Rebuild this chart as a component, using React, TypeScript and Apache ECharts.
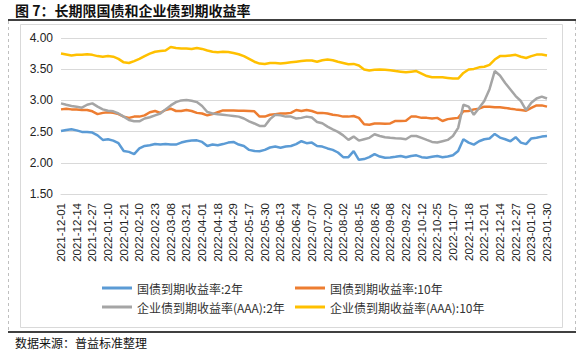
import React, { useEffect, useRef } from "react";
import * as echarts from "echarts";

const dates = [
  "2021-12-01","2021-12-06","2021-12-09","2021-12-14","2021-12-17","2021-12-22","2021-12-27","2021-12-30","2022-01-05","2022-01-10",
  "2022-01-13","2022-01-18","2022-01-21","2022-01-26","2022-02-07","2022-02-10","2022-02-15","2022-02-18","2022-02-23","2022-02-28",
  "2022-03-03","2022-03-08","2022-03-11","2022-03-16","2022-03-21","2022-03-24","2022-03-29","2022-04-01","2022-04-08","2022-04-13",
  "2022-04-18","2022-04-21","2022-04-26","2022-04-29","2022-05-09","2022-05-12","2022-05-17","2022-05-20","2022-05-25","2022-05-30",
  "2022-06-02","2022-06-08","2022-06-13","2022-06-16","2022-06-21","2022-06-24","2022-06-29","2022-07-04","2022-07-07","2022-07-12",
  "2022-07-15","2022-07-20","2022-07-25","2022-07-28","2022-08-02","2022-08-05","2022-08-10","2022-08-15","2022-08-18","2022-08-23",
  "2022-08-26","2022-08-31","2022-09-05","2022-09-08","2022-09-14","2022-09-19","2022-09-22","2022-09-27","2022-09-30","2022-10-12",
  "2022-10-17","2022-10-20","2022-10-25","2022-10-28","2022-11-02","2022-11-07","2022-11-10","2022-11-15","2022-11-18","2022-11-23",
  "2022-11-28","2022-12-01","2022-12-06","2022-12-09","2022-12-14","2022-12-19","2022-12-22","2022-12-27","2022-12-30","2023-01-05",
  "2023-01-10","2023-01-13","2023-01-18","2023-01-30",
];

const gov2y = [
  2.51, 2.527, 2.537, 2.52, 2.495, 2.495, 2.484, 2.44, 2.367, 2.378,
  2.356, 2.314, 2.19, 2.175, 2.14, 2.23, 2.27, 2.28, 2.3, 2.292,
  2.3, 2.292, 2.292, 2.324, 2.346, 2.356, 2.36, 2.335, 2.27, 2.292,
  2.28, 2.3, 2.324, 2.335, 2.292, 2.27, 2.207, 2.19, 2.186, 2.207,
  2.245, 2.26, 2.24, 2.26, 2.27, 2.3, 2.346, 2.314, 2.324, 2.27,
  2.26, 2.23, 2.207, 2.165, 2.09, 2.09, 2.186, 2.048, 2.06, 2.09,
  2.14, 2.1, 2.08, 2.085, 2.096, 2.11, 2.09, 2.11, 2.12, 2.09,
  2.08, 2.096, 2.11, 2.09, 2.1, 2.12, 2.19, 2.378, 2.324, 2.292,
  2.346, 2.378, 2.39, 2.463, 2.404, 2.378, 2.346, 2.41, 2.324, 2.3,
  2.39, 2.4, 2.42, 2.43,
];

const gov10y = [
  2.856, 2.867, 2.856, 2.856, 2.846, 2.846, 2.825, 2.78, 2.8, 2.81,
  2.8, 2.78, 2.74, 2.72, 2.74, 2.74, 2.76, 2.81, 2.83, 2.8,
  2.846, 2.867, 2.83, 2.83, 2.846, 2.83, 2.8, 2.79, 2.76, 2.78,
  2.81, 2.84, 2.84, 2.84, 2.835, 2.835, 2.83, 2.825, 2.74, 2.74,
  2.77, 2.78, 2.79, 2.79, 2.8, 2.846, 2.83, 2.846, 2.83, 2.8,
  2.8, 2.79, 2.77, 2.76, 2.74, 2.74, 2.75, 2.72, 2.617, 2.61,
  2.63, 2.63, 2.627, 2.63, 2.67, 2.67, 2.675, 2.74, 2.74, 2.72,
  2.72, 2.71, 2.72, 2.67, 2.7, 2.71, 2.72, 2.825, 2.83, 2.856,
  2.867, 2.9, 2.9, 2.89, 2.89, 2.88, 2.867, 2.856, 2.846, 2.835,
  2.88, 2.92, 2.92, 2.9,
];

const corp2y = [
  2.952, 2.93, 2.91, 2.9, 2.883, 2.93, 2.952, 2.9, 2.856, 2.835,
  2.825, 2.79, 2.74, 2.686, 2.665, 2.665, 2.71, 2.73, 2.76, 2.79,
  2.856, 2.92, 2.973, 3.0, 3.005, 2.995, 2.973, 2.91, 2.814, 2.79,
  2.777, 2.77, 2.76, 2.75, 2.74, 2.71, 2.665, 2.63, 2.59, 2.59,
  2.7, 2.77, 2.76, 2.74, 2.74, 2.71, 2.72, 2.74, 2.725, 2.655,
  2.633, 2.58, 2.537, 2.495, 2.44, 2.367, 2.42, 2.356, 2.378, 2.4,
  2.457, 2.43, 2.41, 2.4, 2.394, 2.39, 2.378, 2.43, 2.43, 2.4,
  2.367, 2.335, 2.324, 2.346, 2.367, 2.43, 2.56, 2.93, 2.9, 2.77,
  2.88, 2.99, 3.18, 3.47, 3.4, 3.28, 3.175, 3.07, 2.99, 2.846,
  2.963, 3.03, 3.06, 3.03,
];

const corp10y = [
  3.75, 3.734, 3.718, 3.73, 3.73, 3.74, 3.73, 3.71, 3.7, 3.71,
  3.7, 3.665, 3.61, 3.6, 3.63, 3.665, 3.71, 3.75, 3.78, 3.79,
  3.8, 3.856, 3.84, 3.83, 3.83, 3.825, 3.84, 3.825, 3.8, 3.78,
  3.77, 3.78, 3.775, 3.76, 3.74, 3.71, 3.665, 3.62, 3.59, 3.585,
  3.6, 3.6, 3.59, 3.6, 3.61, 3.62, 3.63, 3.64, 3.64, 3.62,
  3.644, 3.655, 3.644, 3.62, 3.6, 3.58, 3.585, 3.56, 3.495, 3.48,
  3.49, 3.495, 3.49, 3.484, 3.47, 3.46, 3.45, 3.46, 3.47, 3.43,
  3.39, 3.37, 3.37, 3.37, 3.36, 3.35, 3.35, 3.44, 3.495, 3.505,
  3.53, 3.54, 3.57, 3.655, 3.71, 3.71, 3.72, 3.73, 3.7, 3.68,
  3.71, 3.734, 3.734, 3.72,
];

const seriesNames = [
  "国债到期收益率:2年",
  "国债到期收益率:10年",
  "企业债到期收益率(AAA):2年",
  "企业债到期收益率(AAA):10年",
];
const seriesColors = ["#5B9BD5", "#ED7D31", "#A5A5A5", "#FFC000"];
const seriesData = [gov2y, gov10y, corp2y, corp10y];

const titleText = "图 7：长期限国债和企业债到期收益率";
const sourceText = "数据来源：普益标准整理";

const CJK = '"Noto Sans CJK SC", sans-serif';
const LAT = '"Liberation Sans", Arial, sans-serif';

export default function App() {
  const ref = useRef<HTMLDivElement>(null);
  useEffect(() => {
    const chart = echarts.init(ref.current!, null, { renderer: "svg" });
    const legendCommon = {
      icon: "rect",
      itemWidth: 30,
      itemHeight: 3,
      itemGap: 0,
      padding: 0,
      selectedMode: false,
      textStyle: { fontSize: 12, color: "#333", fontFamily: CJK },
    };
    const legendPos = [
      { left: 102, top: 282 },
      { left: 295, top: 282 },
      { left: 102, top: 301 },
      { left: 295, top: 301 },
    ];
    chart.setOption({
      animation: false,
      backgroundColor: "#fff",
      textStyle: { fontFamily: LAT },
      grid: { left: 61, right: 37, top: 38, bottom: 159, containLabel: false },
      legend: seriesNames.map((n, i) => ({ ...legendCommon, ...legendPos[i], data: [n] })),
      xAxis: {
        type: "category",
        boundaryGap: false,
        data: dates,
        axisLine: { lineStyle: { color: "#D9D9D9", width: 1 } },
        axisTick: { show: false },
        axisLabel: {
          rotate: 90,
          interval: 2,
          fontSize: 11.5,
          color: "#222",
          margin: 9,
          fontFamily: LAT,
        },
        splitLine: { show: false },
      },
      yAxis: {
        type: "value",
        min: 1.5,
        max: 4,
        interval: 0.5,
        axisLine: { show: false },
        axisTick: { show: false },
        axisLabel: {
          fontSize: 12,
          color: "#222",
          margin: 8,
          fontFamily: LAT,
          formatter: (v: number) => v.toFixed(2),
        },
        splitLine: { lineStyle: { color: "#D9D9D9", width: 1 } },
      },
      series: seriesNames.map((n, i) => ({
        name: n,
        type: "line",
        data: seriesData[i],
        showSymbol: false,
        symbol: "none",
        color: seriesColors[i],
        lineStyle: { width: 2.5, color: seriesColors[i] },
      })),
      graphic: [
        {
          type: "text",
          x: 15,
          y: 10,
          style: { text: titleText, font: `bold 14px ${CJK}`, fill: "#111", verticalAlign: "middle" },
        },
        { type: "line", shape: { x1: 8, y1: 20, x2: 576, y2: 20 }, style: { stroke: "#000", lineWidth: 1.5 } },
        { type: "line", shape: { x1: 8.5, y1: 21, x2: 8.5, y2: 332 }, style: { stroke: "#BFBFBF", lineWidth: 1, lineDash: [3, 3] } },
        { type: "line", shape: { x1: 575.5, y1: 21, x2: 575.5, y2: 332 }, style: { stroke: "#BFBFBF", lineWidth: 1, lineDash: [3, 3] } },
        { type: "rect", z: -1, shape: { x: 20.5, y: 24.5, width: 542, height: 303 }, style: { fill: "transparent", stroke: "#D9D9D9", lineWidth: 1 } },
        { type: "line", shape: { x1: 8, y1: 332, x2: 576, y2: 332 }, style: { stroke: "#000", lineWidth: 1.5 } },
        {
          type: "text",
          x: 15,
          y: 342,
          style: { text: sourceText, font: `12px ${CJK}`, fill: "#111", verticalAlign: "middle" },
        },
      ],
    });
    return () => chart.dispose();
  }, []);
  return (
    <div
      ref={ref}
      style={{ position: "absolute", left: 0, top: 0, width: 584, height: 353, background: "#fff" }}
    />
  );
}
